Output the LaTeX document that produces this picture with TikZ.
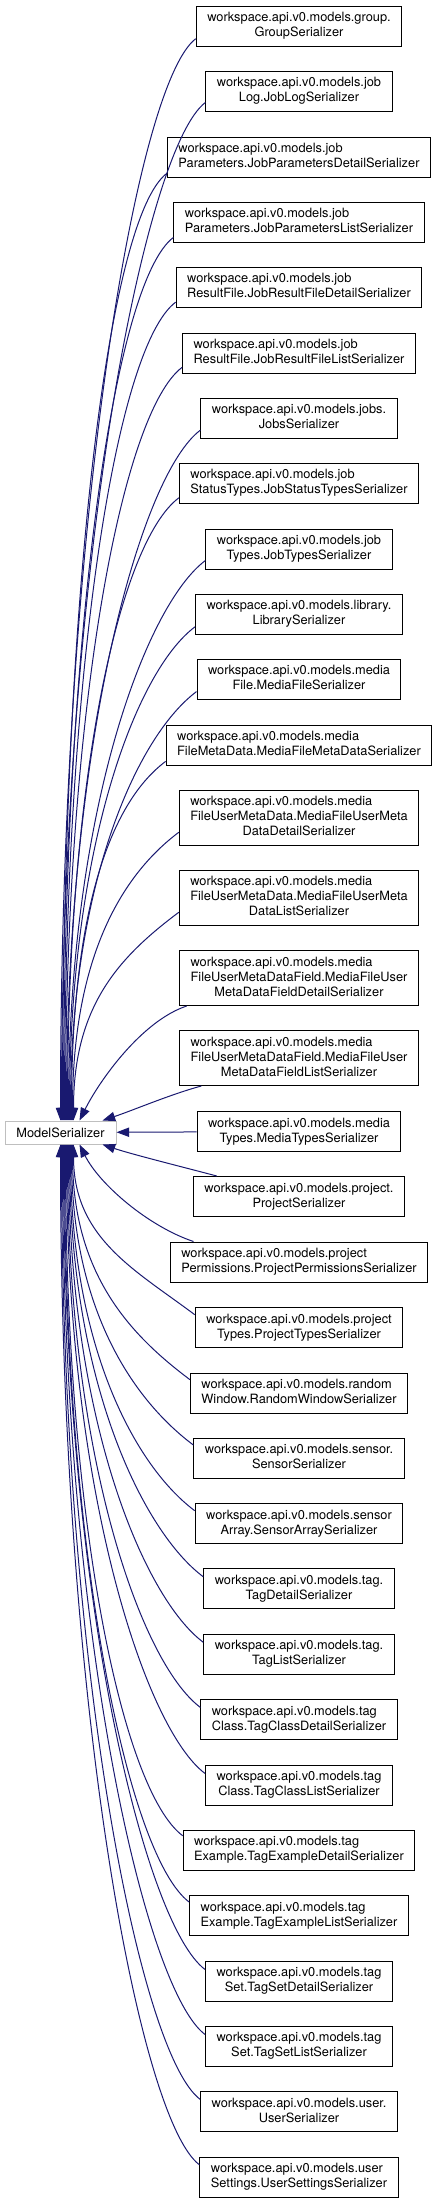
\documentclass[tikz,border=0pt]{standalone}
\usepackage{fontspec}
\newfontfamily\helv{TeX Gyre Heros}
\usepackage{xcolor}
\usetikzlibrary{arrows.meta,calc}
\definecolor{edgeblue}{HTML}{191970}
\definecolor{basegray}{HTML}{BFBFBF}
\newcommand{\ws}{workspace.api.v0.models.}
\newcommand{\twoln}[2]{\begin{tabular}{@{}l@{}}#1\\\multicolumn{1}{@{}c@{}}{#2}\end{tabular}}
\newcommand{\threeln}[3]{\begin{tabular}{@{}l@{}}#1\\#2\\\multicolumn{1}{@{}c@{}}{#3}\end{tabular}}

\begin{document}
\begin{tikzpicture}[x=0.75pt,y=-0.75pt,
  cls/.style={draw=black,line width=0.75pt,fill=white,inner xsep=8.25pt,inner ysep=3.75pt,
    font=\helv\fontsize{9.6}{11.25}\selectfont},
  base/.style={cls,draw=basegray,inner ysep=0pt,minimum width=83.25pt,minimum height=17.25pt},
  inh/.style={draw=edgeblue,line width=0.75pt,-{Triangle[length=9.5pt,width=7pt]}}]
  \useasboundingbox (0,0) rectangle (440,2203);
  \node[base] (base) at (60.5,1132.5) {ModelSerializer};
  \foreach \i/\y/\lbl in {
    1/26/{\twoln{\ws group.}{GroupSerializer}},
    2/91/{\twoln{\ws job}{Log.JobLogSerializer}},
    3/157/{\twoln{\ws job}{Parameters.JobParametersDetailSerializer}},
    4/222/{\twoln{\ws job}{Parameters.JobParametersListSerializer}},
    5/287/{\twoln{\ws job}{ResultFile.JobResultFileDetailSerializer}},
    6/353/{\twoln{\ws job}{ResultFile.JobResultFileListSerializer}},
    7/418/{\twoln{\ws jobs.}{JobsSerializer}},
    8/483/{\twoln{\ws job}{StatusTypes.JobStatusTypesSerializer}},
    9/549/{\twoln{\ws job}{Types.JobTypesSerializer}},
    10/614/{\twoln{\ws library.}{LibrarySerializer}},
    11/679/{\twoln{\ws media}{File.MediaFileSerializer}},
    12/745/{\twoln{\ws media}{FileMetaData.MediaFileMetaDataSerializer}},
    13/817.5/{\threeln{\ws media}{FileUserMetaData.MediaFileUserMeta}{DataDetailSerializer}},
    14/897.5/{\threeln{\ws media}{FileUserMetaData.MediaFileUserMeta}{DataListSerializer}},
    15/978/{\threeln{\ws media}{FileUserMetaDataField.MediaFileUser}{MetaDataFieldDetailSerializer}},
    16/1058/{\threeln{\ws media}{FileUserMetaDataField.MediaFileUser}{MetaDataFieldListSerializer}},
    17/1131.5/{\twoln{\ws media}{Types.MediaTypesSerializer}},
    18/1196.5/{\twoln{\ws project.}{ProjectSerializer}},
    19/1262/{\twoln{\ws project}{Permissions.ProjectPermissionsSerializer}},
    20/1327.5/{\twoln{\ws project}{Types.ProjectTypesSerializer}},
    21/1393/{\twoln{\ws random}{Window.RandomWindowSerializer}},
    22/1458/{\twoln{\ws sensor.}{SensorSerializer}},
    23/1523.5/{\twoln{\ws sensor}{Array.SensorArraySerializer}},
    24/1588.5/{\twoln{\ws tag.}{TagDetailSerializer}},
    25/1654/{\twoln{\ws tag.}{TagListSerializer}},
    26/1719.5/{\twoln{\ws tag}{Class.TagClassDetailSerializer}},
    27/1785/{\twoln{\ws tag}{Class.TagClassListSerializer}},
    28/1850/{\twoln{\ws tag}{Example.TagExampleDetailSerializer}},
    29/1915.5/{\twoln{\ws tag}{Example.TagExampleListSerializer}},
    30/1981/{\twoln{\ws tag}{Set.TagSetDetailSerializer}},
    31/2046/{\twoln{\ws tag}{Set.TagSetListSerializer}},
    32/2111.5/{\twoln{\ws user.}{UserSerializer}},
    33/2177/{\twoln{\ws user}{Settings.UserSettingsSerializer}}}
    \node[cls] (ser\i) at (299,\y) {\lbl};
  % edges from the upper classes
  \foreach \i in {1,...,14} {
    \path (ser\i.187) coordinate (s) ($(base.north)+({\i-1},0)$) coordinate (e);
    \path (e |- s) coordinate (m);
    \draw[inh] (s) .. controls +(-60,45) and ($(e)!0.55!(m)$) .. (e);
  }
  % edges from the lower classes
  \foreach \i in {20,...,33} {
    \path (ser\i.173) coordinate (s) ($(base.south)+({33-\i},0)$) coordinate (e);
    \path (e |- s) coordinate (m);
    \draw[inh] (s) .. controls +(-60,-45) and ($(e)!0.55!(m)$) .. (e);
  }
  \draw[inh] (ser15.194) .. controls +(-45,15) and +(20,-40) .. ($(base.north)+(19,0)$);
  \draw[inh] (ser16.196) .. controls +(-30,8) and +(30,-10) .. ($(base.north east)+(-14,0)$);
  \draw[inh] (ser17) -- (base);
  \draw[inh] (ser18.166) .. controls +(-30,-8) and +(30,10) .. ($(base.south east)+(-14,0)$);
  \draw[inh] (ser19.169) .. controls +(-45,-15) and +(20,40) .. ($(base.south)+(19,0)$);
\end{tikzpicture}
\end{document}
